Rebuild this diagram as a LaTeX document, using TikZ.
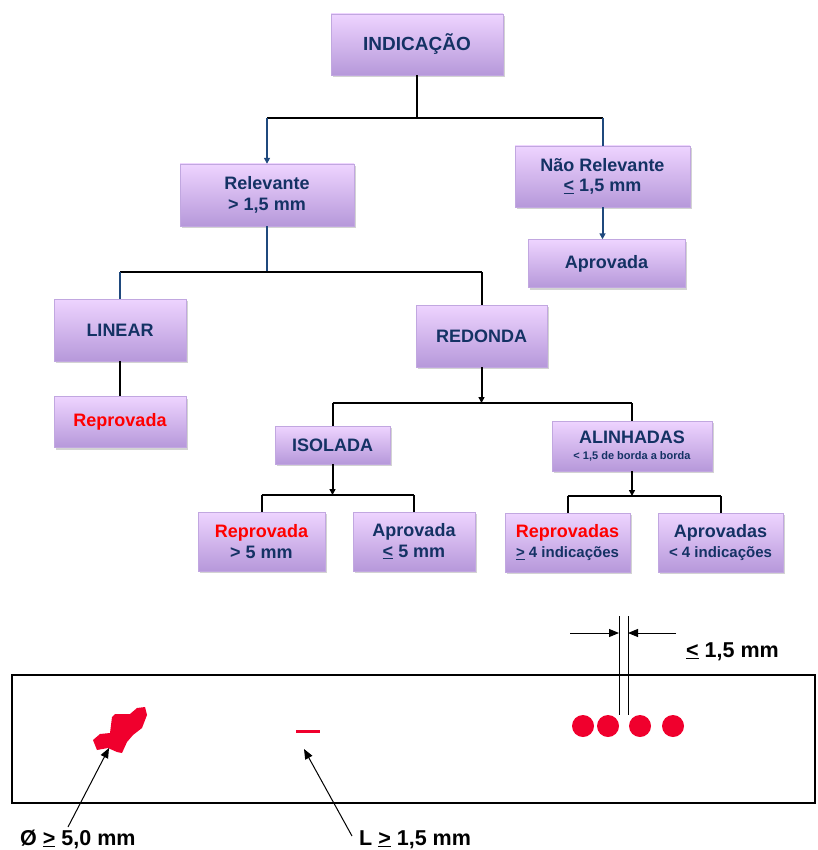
\documentclass[tikz,border=0pt]{standalone}
\usepackage{fontspec}
\setmainfont{Liberation Sans}
\usetikzlibrary{arrows.meta,shadows}
\definecolor{boxtop}{RGB}{238,212,255}
\definecolor{boxbot}{RGB}{182,152,218}
\definecolor{txtblue}{RGB}{20,50,100}
\definecolor{lnblue}{RGB}{31,73,125}
\definecolor{dotred}{RGB}{240,0,45}
\begin{document}
\begin{tikzpicture}[x=1pt,y=-1pt,
  fbox/.style={rectangle, inner sep=0pt, top color=boxtop, bottom color=boxbot,
    draw=boxbot!85!white, line width=0.4pt,
    drop shadow={shadow xshift=1.5pt,shadow yshift=-2pt,opacity=0.35},
    font=\fontsize{18}{20.5}\selectfont\bfseries, text=txtblue, align=center},
  blk/.style={line width=2pt, black},
  blu/.style={line width=2pt, lnblue},
  tip/.style={-{Triangle[length=6pt,width=6pt]}},
  lbl/.style={anchor=base west, inner sep=0pt, font=\fontsize{21.5}{24}\selectfont\bfseries, text=black},
  thin/.style={line width=1pt, black},
  bigtip/.style={-{Triangle[length=10pt,width=8pt]}},
]
\useasboundingbox (0,0) rectangle (817,850);

% boxes
\node[fbox, minimum width=172pt, minimum height=61pt, font=\fontsize{19}{21}\selectfont\bfseries] (ind) at (417,44.5) {INDICAÇÃO};
\node[fbox, minimum width=174pt, minimum height=62pt] (rel) at (267,195) {Relevante\\> 1,5 mm};
\node[fbox, minimum width=175pt, minimum height=61pt] (nrel) at (602.5,176.5) {Não Relevante\\\underline{<} 1,5 mm};
\node[fbox, minimum width=157pt, minimum height=48pt] (apr1) at (606.5,263.5) {Aprovada};
\node[fbox, minimum width=132pt, minimum height=62pt] (lin) at (120,330) {LINEAR};
\node[fbox, minimum width=132pt, minimum height=51pt, text=red] (rep1) at (120,422) {Reprovada};
\node[fbox, minimum width=131pt, minimum height=62pt] (red) at (481.5,336) {REDONDA};
\node[fbox, minimum width=115pt, minimum height=38pt] (iso) at (332.5,445) {ISOLADA};
\node[fbox, minimum width=160pt, minimum height=50pt] (ali) at (632,446) {ALINHADAS\\[-5pt]{\fontsize{11}{13}\selectfont < 1,5 de borda a borda}};
\node[fbox, minimum width=127pt, minimum height=59pt] (rep2) at (261.5,541.5) {\textcolor{red}{Reprovada}\\> 5 mm};
\node[fbox, minimum width=122pt, minimum height=59pt] (apr2) at (414,541.5) {Aprovada\\\underline{<} 5 mm};
\node[fbox, minimum width=125pt, minimum height=59pt] (rep3) at (567.5,542.5) {\textcolor{red}{Reprovadas}\\{\fontsize{15}{17}\selectfont \underline{>} 4 indicações}};
\node[fbox, minimum width=125pt, minimum height=59pt] (apr3) at (720.5,542.5) {Aprovadas\\{\fontsize{15}{17}\selectfont < 4 indicações}};

% connectors
\coordinate (j1) at (417,118);
\draw[blk] (ind.south) -- (j1);
\draw[blk] (rel.north |- j1) -- (nrel.north |- j1);
\draw[blu,tip] (rel.north |- j1) -- (rel.north);
\draw[blu] (nrel.north |- j1) -- (nrel.north);
\draw[blu,tip] (nrel.south) -- (nrel.south |- apr1.north);

\coordinate (j2) at (267,272);
\draw[blu] (rel.south) -- (j2);
\draw[blk] (lin.north |- j2) -- (red.north |- j2);
\draw[blu] (lin.north |- j2) -- (lin.north);
\draw[blk] (red.north |- j2) -- (red.north);
\draw[blk] (lin.south) -- (rep1.north);

\coordinate (j3) at (481.5,403);
\draw[blk,tip] (red.south) -- (j3);
\draw[blk] (iso.north |- j3) -- (ali.north |- j3);
\draw[blk] (iso.north |- j3) -- (iso.north);
\draw[blk] (ali.north |- j3) -- (ali.north);

\coordinate (j4) at (332.5,495);
\draw[blk,tip] (iso.south) -- (j4);
\draw[blk] (rep2.north |- j4) -- (apr2.north |- j4);
\draw[blk] (rep2.north |- j4) -- (rep2.north);
\draw[blk] (apr2.north |- j4) -- (apr2.north);

\coordinate (j5) at (632,496);
\draw[blk,tip] (ali.south) -- (j5);
\draw[blk] (rep3.north |- j5) -- (apr3.north |- j5);
\draw[blk] (rep3.north |- j5) -- (rep3.north);
\draw[blk] (apr3.north |- j5) -- (apr3.north);

% lower panel
\draw[line width=1.2pt] (12,675) rectangle (815,803);
\fill[dotred] (93,740) -- (100,734) -- (110,733) -- (112,717) -- (115,714) -- (130,714)
  -- (137,708) -- (145,707) -- (147,715) -- (142,728) -- (133,735) -- (127,742)
  -- (122,753) -- (117,752) -- (108,748) -- (97,750) -- cycle;
\draw[dotred, line width=3pt] (296,731) -- (320,731);
\foreach \cx in {583,608,640,673} \fill[dotred] (\cx,726) circle[radius=11pt];

\coordinate (v1t) at (619,616); \coordinate (v1b) at (619,715);
\coordinate (v2t) at (628,616); \coordinate (v2b) at (628,715);
\draw[thin] (v1t) -- (v1b);
\draw[thin] (v2t) -- (v2b);
\coordinate (al) at (570,633); \coordinate (ar) at (676,633);
\draw[thin,bigtip] (al) -- (al -| v1t);
\draw[thin,bigtip] (ar) -- (ar -| v2t);

\node[lbl] (gap) at (686,657) {\underline{<} 1,5 mm};
\node[lbl] (dia) at (20,845) {Ø \underline{>} 5,0 mm};
\node[lbl] (len) at (359,845) {L \underline{>} 1,5 mm};

\coordinate (blob) at (109,748);
\coordinate (dash) at (304,749);
\coordinate (d1) at (68,827);
\coordinate (l1) at (352,836);
\draw[thin,bigtip] (d1) -- (blob);
\draw[thin,bigtip] (l1) -- (dash);
\end{tikzpicture}
\end{document}
